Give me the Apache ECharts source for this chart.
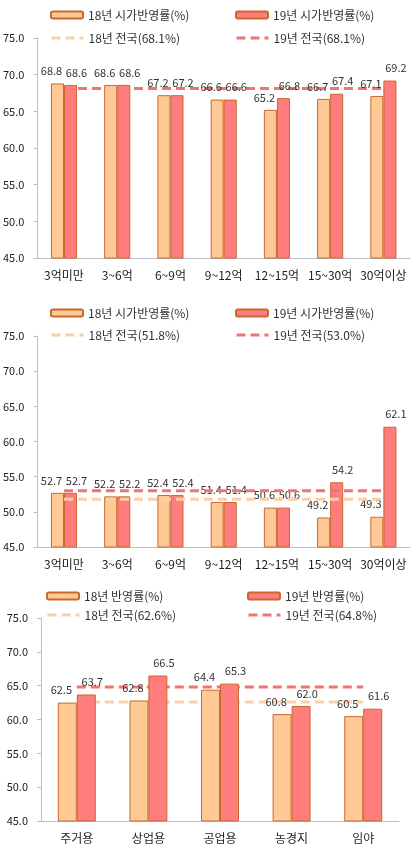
<!DOCTYPE html>
<html>
<head>
<meta charset="utf-8">
<script src="https://cdn.jsdelivr.net/npm/echarts@6/dist/echarts.min.js"></script>
<style>
  html, body { margin: 0; padding: 0; background: #fff; }
  #main { width: 413px; height: 856px; }
</style>
</head>
<body>
<div id="main"></div>
<script>
// price bands (charts 1, 2) and land use (chart 3)
const priceBands = ['3억미만', '3~6억', '6~9억', '9~12억', '12~15억', '15~30억', '30억이상'];
const landUses = ['주거용', '상업용', '공업용', '농경지', '임야'];
const yTicks = [45, 50, 55, 60, 65, 70, 75];

// chart 1
const c1Bar18 = [68.8, 68.6, 67.2, 66.6, 65.2, 66.7, 67.1];
const c1Bar19 = [68.6, 68.6, 67.2, 66.6, 66.8, 67.4, 69.2];
const c1Nat18 = [68.1, 68.1, 68.1, 68.1, 68.1, 68.1, 68.1];
const c1Nat19 = [68.1, 68.1, 68.1, 68.1, 68.1, 68.1, 68.1];

// chart 2
const c2Bar18 = [52.7, 52.2, 52.4, 51.4, 50.6, 49.2, 49.3];
const c2Bar19 = [52.7, 52.2, 52.4, 51.4, 50.6, 54.2, 62.1];
const c2Nat18 = [51.8, 51.8, 51.8, 51.8, 51.8, 51.8, 51.8];
const c2Nat19 = [53.0, 53.0, 53.0, 53.0, 53.0, 53.0, 53.0];

// chart 3
const c3Bar18 = [62.5, 62.8, 64.4, 60.8, 60.5];
const c3Bar19 = [63.7, 66.5, 65.3, 62.0, 61.6];
const c3Nat18 = [62.6, 62.6, 62.6, 62.6, 62.6];
const c3Nat19 = [64.8, 64.8, 64.8, 64.8, 64.8];

const FONT = '"Noto Sans CJK KR", "Noto Sans", sans-serif';
const fill18 = '#ffc996', fill19 = '#ff7d7d';
const border = '#c8692e';
const line18 = '#fcd0a6', line19 = '#ef7474';
const dash = [9, 5];

const chart = echarts.init(document.getElementById('main'));

function barSeries(name, data, idx, fill, dx) {
    return {
        name: name,
        type: 'bar',
        xAxisIndex: idx,
        yAxisIndex: idx,
        data: data,
        barGap: '0%',
        barCategoryGap: idx === 2 ? '47%' : '51%',
        z: 3,
        itemStyle: { color: fill, borderColor: border, borderWidth: 1 },
        label: {
            show: true,
            position: 'top',
            distance: 7,
            offset: [dx, 0],
            fontFamily: FONT,
            fontSize: 11,
            color: '#333',
            formatter: p => p.value.toFixed(1)
        }
    };
}

function lineSeries(name, data, idx, color, z) {
    return {
        name: name,
        type: 'line',
        xAxisIndex: idx,
        yAxisIndex: idx,
        data: data,
        symbol: 'none',
        z: z,
        lineStyle: { color: color, width: 3, type: dash },
        itemStyle: { color: color },
        silent: true
    };
}

// one legend box per item so the two columns line up like the original
function legendItem(name, left, top, isLine) {
    const lg = {
        data: [name],
        left: left,
        top: top,
        padding: 0,
        itemWidth: 32,
        itemHeight: 7,
        textStyle: { fontFamily: FONT, fontSize: 12, color: '#333' }
    };
    if (isLine) {
        // hide the dot that line series put in the middle of their legend icon
        lg.itemStyle = { opacity: 0 };
        lg.lineStyle = { width: 3, type: dash };
    }
    return lg;
}

const grids = [
    { left: 35, top: 38, width: 375, height: 220 },
    { left: 35, top: 336, width: 375, height: 211 },
    { left: 41, top: 618, width: 358, height: 203 }
];

const cats = [priceBands, priceBands, landUses];

const option = {
    animation: false,
    grid: grids,
    xAxis: cats.map((c, i) => ({
        type: 'category',
        gridIndex: i,
        data: c,
        axisLine: { lineStyle: { color: '#bfbfbf' } },
        axisTick: { show: false },
        axisLabel: { fontFamily: FONT, fontSize: 12, color: '#222', margin: 11, interval: 0 }
    })),
    yAxis: cats.map((c, i) => ({
        type: 'value',
        gridIndex: i,
        min: yTicks[0],
        max: yTicks[yTicks.length - 1],
        interval: 5,
        splitLine: { show: false },
        axisLine: { show: true, lineStyle: { color: '#bfbfbf' } },
        axisTick: { show: true, length: 4, lineStyle: { color: '#bfbfbf' } },
        axisLabel: {
            fontFamily: FONT, fontSize: 11, color: '#222', margin: 13,
            formatter: v => v.toFixed(1)
        }
    })),
    legend: [
        legendItem('18년 시가반영률(%)', 50, 9),
        legendItem('19년 시가반영률(%)', 235, 9),
        legendItem('18년 전국(68.1%)', 50, 32, true),
        legendItem('19년 전국(68.1%)', 235, 32, true),
        legendItem('18년 시가반영률(%)', 50, 307),
        legendItem('19년 시가반영률(%)', 235, 307),
        legendItem('18년 전국(51.8%)', 50, 329, true),
        legendItem('19년 전국(53.0%)', 235, 329, true),
        legendItem('18년 반영률(%)', 46, 590),
        legendItem('19년 반영률(%)', 247, 590),
        legendItem('18년 전국(62.6%)', 46, 609, true),
        legendItem('19년 전국(64.8%)', 247, 609, true)
    ],
    series: [
        barSeries('18년 시가반영률(%)', c1Bar18, 0, fill18, -6),
        barSeries('19년 시가반영률(%)', c1Bar19, 0, fill19, 6),
        lineSeries('18년 전국(68.1%)', c1Nat18, 0, line18, 2),
        lineSeries('19년 전국(68.1%)', c1Nat19, 0, line19, 2),

        barSeries('18년 시가반영률(%)', c2Bar18, 1, fill18, -6),
        barSeries('19년 시가반영률(%)', c2Bar19, 1, fill19, 6),
        lineSeries('18년 전국(51.8%)', c2Nat18, 1, line18, 4),
        lineSeries('19년 전국(53.0%)', c2Nat19, 1, line19, 4),

        barSeries('18년 반영률(%)', c3Bar18, 2, fill18, -6),
        barSeries('19년 반영률(%)', c3Bar19, 2, fill19, 6),
        lineSeries('18년 전국(62.6%)', c3Nat18, 2, line18, 2),
        lineSeries('19년 전국(64.8%)', c3Nat19, 2, line19, 2)
    ]
};

chart.setOption(option);
</script>
</body>
</html>
